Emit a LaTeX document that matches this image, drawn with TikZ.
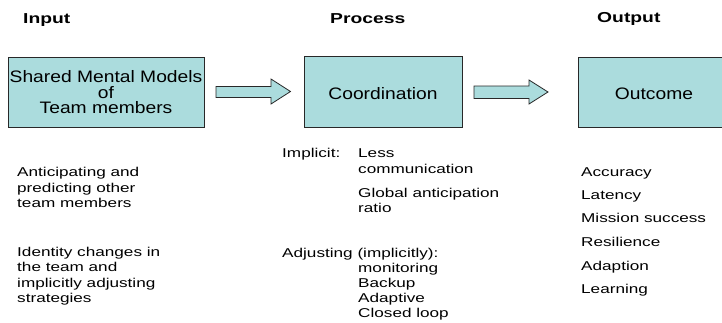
\documentclass[tikz,border=0pt]{standalone}
\usepackage{fontspec}
\setmainfont{Liberation Sans}
\newfontfamily\bodyf[FakeStretch=1.34]{Liberation Sans}
\newfontfamily\headf[FakeStretch=1.34]{Liberation Sans Bold}
\newfontfamily\boxf[FakeStretch=1.16]{Liberation Sans}
\definecolor{boxfill}{RGB}{171,220,221}
\definecolor{edge}{RGB}{40,40,40}
\begin{document}
\begin{tikzpicture}[x=1pt,y=-1pt,
  box/.style={draw=edge,fill=boxfill,line width=0.8pt},
  blockarrow/.style={draw=edge,fill=boxfill,line width=0.8pt,line join=miter},
  head/.style={anchor=base west,inner sep=0pt,font=\headf\fontsize{14.4}{16}\selectfont},
  body/.style={anchor=base west,inner sep=0pt,font=\bodyf\fontsize{12.8}{16}\selectfont},
  boxtext/.style={anchor=base,inner sep=0pt,font=\boxf\fontsize{16.6}{16}\selectfont}]
\useasboundingbox (0,0) rectangle (722,322);
\begin{scope}
\clip (0,0) rectangle (722,322);
% headers
\node[head] (hin) at (23,23) {Input};
\node[head] (hpr) at (330,23) {Process};
\node[head] (hout) at (597,22.5) {Output};
% boxes
\draw[box] (8,57) rectangle (204,127);
\draw[box] (304,56.5) rectangle (462,127);
\draw[box] (578,57) rectangle (730,127);
\node[boxtext] (b1a) at (106,82) {Shared Mental Models};
\node[boxtext] (b1b) at (106,98) {of};
\node[boxtext] (b1c) at (106,113.5) {Team members};
\node[boxtext] (b2) at (383,99) {Coordination};
\node[boxtext] (b3) at (654,99) {Outcome};
% block arrows
\draw[blockarrow] (216,86.5) -- (271,86.5) -- (271,79) -- (290.5,91.5) -- (271,104) -- (271,97.5) -- (216,97.5) -- cycle;
\draw[blockarrow] (474,86) -- (529,86) -- (529,80) -- (548,92) -- (529,104) -- (529,98.5) -- (474,98.5) -- cycle;
% column 1
\node[body] (c1a) at (17,176) {Anticipating and};
\node[body] (c1b) at (17,192) {predicting other};
\node[body] (c1c) at (17,207.5) {team members};
\node[body] (c1d) at (17,256) {Identity changes in};
\node[body] (c1e) at (17,271.5) {the team and};
\node[body] (c1f) at (17,287) {implicitly adjusting};
\node[body] (c1g) at (17,302.5) {strategies};
% column 2
\node[body] (c2a) at (282,157) {Implicit:};
\node[body] (c2b) at (358,157) {Less};
\node[body] (c2c) at (358,173) {communication};
\node[body] (c2d) at (358,197) {Global anticipation};
\node[body] (c2e) at (358,212) {ratio};
\node[body] (c2f) at (282,257) {Adjusting (implicitly):};
\node[body] (c2g) at (358,272) {monitoring};
\node[body] (c2h) at (358,287) {Backup};
\node[body] (c2i) at (358,302) {Adaptive};
\node[body] (c2j) at (358,317) {Closed loop};
% column 3
\node[body] (c3a) at (581,176) {Accuracy};
\node[body] (c3b) at (581,199.5) {Latency};
\node[body] (c3c) at (581,222.5) {Mission success};
\node[body] (c3d) at (581,246.5) {Resilience};
\node[body] (c3e) at (581,270) {Adaption};
\node[body] (c3f) at (581,293.5) {Learning};
\end{scope}
\end{tikzpicture}
\end{document}
